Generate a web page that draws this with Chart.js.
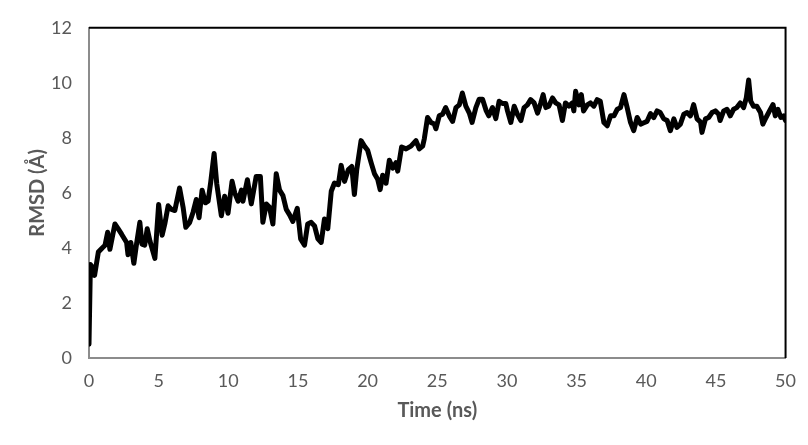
<!DOCTYPE html>
<html lang="en">
<head>
    <meta charset="UTF-8">
    <title>RMSD vs Time</title>
    <style>
        body {
            margin: 0;
            padding: 0;
            background-color: #fff;
        }
        .wrap {
            width: 808px;
            height: 445px;
        }
    </style>
    <script src="https://cdn.jsdelivr.net/npm/chart.js"></script>
</head>
<body>
    <div class="wrap"><canvas id="rmsdChart" width="808" height="445"></canvas></div>

    <script>
        // Simulation time (ns) and RMSD (Å)
        const timeNs = [
            0, 0.1, 0.25, 0.4, 0.67, 0.95, 1.15, 1.34, 1.5, 1.86, 2.1, 2.34, 2.7, 2.8, 3.0, 3.22, 3.4, 3.65, 3.8, 4.0,
            4.18, 4.37, 4.73, 5.0, 5.25, 5.44, 5.68, 5.92, 6.16, 6.5, 6.76, 6.95, 7.23, 7.47, 7.7, 7.9, 8.12, 8.36, 8.55, 8.74,
            8.98, 9.17, 9.5, 9.74, 9.98, 10.27, 10.46, 10.7, 10.94, 11.05, 11.37, 11.65, 12.0, 12.3, 12.48, 12.73, 12.96, 13.2, 13.44, 13.68,
            13.92, 14.16, 14.4, 14.63, 14.95, 15.19, 15.47, 15.7, 15.95, 16.19, 16.43, 16.67, 16.9, 17.14, 17.39, 17.62, 17.9, 18.1, 18.34, 18.62,
            18.86, 19.05, 19.22, 19.53, 19.77, 20.0, 20.25, 20.49, 20.72, 20.9, 21.08, 21.32, 21.56, 21.8, 22.04, 22.16, 22.44, 22.76, 23.11, 23.47,
            23.71, 23.95, 24.07, 24.3, 24.55, 24.79, 24.9, 25.14, 25.38, 25.6, 25.86, 26.1, 26.34, 26.58, 26.8, 27.05, 27.3, 27.5, 27.77, 28.0,
            28.25, 28.5, 28.7, 28.96, 29.2, 29.44, 29.68, 29.92, 30.04, 30.28, 30.52, 30.75, 31.0, 31.23, 31.47, 31.7, 31.95, 32.2, 32.43, 32.6,
            32.79, 33.0, 33.27, 33.5, 33.74, 33.98, 34.2, 34.45, 34.7, 34.8, 34.93, 35.17, 35.34, 35.5, 35.77, 36.0, 36.24, 36.48, 36.7, 36.96,
            37.2, 37.44, 37.68, 37.92, 38.15, 38.4, 38.63, 38.87, 39.1, 39.35, 39.6, 39.83, 40.06, 40.3, 40.54, 40.78, 41.0, 41.26, 41.5, 41.73,
            41.98, 42.2, 42.45, 42.7, 42.93, 43.17, 43.4, 43.65, 43.9, 44.0, 44.25, 44.48, 44.72, 44.96, 45.2, 45.3, 45.56, 45.8, 46.03, 46.27,
            46.5, 46.75, 46.99, 47.18, 47.35, 47.5, 47.7, 47.94, 48.2, 48.37, 48.6, 48.85, 49.1, 49.26, 49.45, 49.66, 49.86, 50.0
        ];
        const rmsdA = [
            0.5, 3.4, 3.3, 3.0, 3.85, 4.0, 4.1, 4.57, 3.95, 4.87, 4.69, 4.5, 4.2, 3.75, 4.2, 3.44, 4.1, 4.93, 4.14, 4.1,
            4.7, 4.26, 3.62, 5.58, 4.46, 4.87, 5.53, 5.4, 5.36, 6.18, 5.46, 4.75, 4.93, 5.3, 5.76, 5.1, 6.1, 5.64, 5.7, 6.4,
            7.43, 6.33, 5.17, 5.88, 5.26, 6.42, 6.0, 5.7, 6.1, 5.7, 6.48, 5.6, 6.6, 6.6, 4.93, 5.6, 5.48, 4.87, 6.7, 6.1,
            5.9, 5.4, 5.2, 4.96, 5.44, 4.33, 4.1, 4.87, 4.93, 4.8, 4.33, 4.2, 5.05, 4.7, 6.06, 6.36, 6.3, 7.0, 6.42, 6.85,
            6.96, 5.94, 6.85, 7.9, 7.7, 7.55, 7.1, 6.7, 6.5, 6.12, 6.64, 6.35, 7.19, 6.9, 7.1, 6.79, 7.67, 7.6, 7.7, 7.9,
            7.6, 7.7, 7.97, 8.74, 8.56, 8.5, 8.33, 8.8, 8.86, 9.1, 8.8, 8.6, 9.1, 9.2, 9.63, 9.15, 8.9, 8.56, 9.1, 9.4,
            9.4, 9.0, 8.8, 9.1, 8.7, 9.33, 9.25, 9.25, 8.98, 8.56, 9.15, 8.86, 8.63, 9.1, 9.2, 9.39, 9.27, 8.9, 9.27, 9.57,
            9.1, 9.15, 9.45, 9.27, 9.2, 8.63, 9.27, 9.15, 9.27, 8.98, 9.69, 9.2, 9.57, 8.98, 9.2, 9.27, 9.15, 9.39, 9.33, 8.56,
            8.44, 8.8, 8.8, 9.04, 9.1, 9.57, 9.1, 8.56, 8.26, 8.74, 8.5, 8.55, 8.6, 8.88, 8.74, 8.98, 8.92, 8.69, 8.63, 8.26,
            8.69, 8.38, 8.5, 8.86, 8.92, 8.8, 9.21, 8.69, 8.57, 8.2, 8.69, 8.74, 8.92, 8.98, 8.86, 8.63, 8.98, 9.04, 8.8, 9.04,
            9.1, 9.27, 9.1, 9.45, 10.1, 9.33, 9.15, 9.15, 8.92, 8.5, 8.74, 8.98, 9.21, 8.8, 9.04, 8.74, 8.8, 8.63
        ];

        const tickColor = '#595959';
        const fontFamily = 'Lato, "Open Sans", sans-serif';

        // Excel-style frame: top and right edges drawn in black
        const framePlugin = {
            id: 'frame',
            afterDatasetsDraw(chart) {
                const { ctx, chartArea: a } = chart;
                ctx.save();
                ctx.strokeStyle = '#000';
                ctx.lineWidth = 2;
                ctx.beginPath();
                ctx.moveTo(a.left, a.top);
                ctx.lineTo(a.right, a.top);
                ctx.lineTo(a.right, a.bottom);
                ctx.stroke();
                ctx.restore();
            }
        };

        const ctx = document.getElementById('rmsdChart').getContext('2d');
        new Chart(ctx, {
            type: 'line',
            data: {
                datasets: [{
                    label: 'RMSD',
                    data: timeNs.map((t, i) => ({ x: t, y: rmsdA[i] })),
                    borderColor: '#000',
                    borderWidth: 5,
                    pointRadius: 0,
                    tension: 0,
                    fill: false,
                    borderJoinStyle: 'round',
                    borderCapStyle: 'round'
                }]
            },
            options: {
                responsive: false,
                animation: false,
                layout: { padding: { top: 22, right: 21, left: 26, bottom: 22 } },
                plugins: {
                    legend: { display: false },
                    tooltip: { enabled: false }
                },
                scales: {
                    x: {
                        type: 'linear',
                        min: 0,
                        max: 50,
                        ticks: {
                            stepSize: 5,
                            color: tickColor,
                            padding: 12,
                            font: { family: fontFamily, size: 18 }
                        },
                        grid: { display: false, drawTicks: false },
                        border: { color: '#8c8c8c', width: 2 },
                        title: {
                            display: true,
                            text: 'Time (ns)',
                            color: tickColor,
                            padding: { top: 4, bottom: 0 },
                            font: { family: fontFamily, size: 20, weight: 'bold' }
                        },
                        afterFit: s => { s.height = 65; }
                    },
                    y: {
                        min: 0,
                        max: 12,
                        ticks: {
                            stepSize: 2,
                            color: tickColor,
                            padding: 17,
                            font: { family: fontFamily, size: 18 }
                        },
                        grid: { display: false, drawTicks: false },
                        border: { color: '#8c8c8c', width: 2 },
                        title: {
                            display: true,
                            text: 'RMSD (Å)',
                            color: tickColor,
                            padding: { top: 0, bottom: 4 },
                            font: { family: fontFamily, size: 20, weight: 'bold' }
                        },
                        afterFit: s => { s.width = 63; }
                    }
                }
            },
            plugins: [framePlugin]
        });
    </script>
</body>
</html>
